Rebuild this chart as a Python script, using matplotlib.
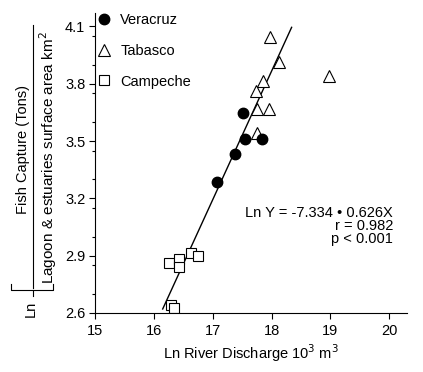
import matplotlib
matplotlib.use("Agg")
import matplotlib.pyplot as plt
from matplotlib.lines import Line2D
from matplotlib.ticker import MultipleLocator

plt.rcParams["font.family"] = ["Liberation Sans", "DejaVu Sans"]

# Ln river discharge (x) vs Ln fish capture / lagoon area (y)
veracruz_x = [17.51, 17.54, 17.83, 17.37, 17.08]
veracruz_y = [3.649, 3.513, 3.513, 3.434, 3.287]

tabasco_x = [17.98, 18.12, 17.85, 17.73, 17.76, 17.95, 17.75, 18.97]
tabasco_y = [4.042, 3.916, 3.812, 3.764, 3.670, 3.670, 3.544, 3.838]

campeche_x = [16.25, 16.42, 16.42, 16.63, 16.75, 16.29, 16.34]
campeche_y = [2.862, 2.883, 2.841, 2.915, 2.899, 2.642, 2.626]

# regression line as drawn in the figure
fit_x = [16.15, 18.34]
fit_y = [2.621, 4.095]

x_ticks = [15, 16, 17, 18, 19, 20]
y_ticks = [2.6, 2.9, 3.2, 3.5, 3.8, 4.1]

W, H = 423, 372
fig = plt.figure(figsize=(W / 100, H / 100), dpi=100)
ax = fig.add_axes([95 / W, 1 - 313 / H, (407 - 95) / W, (313 - 13) / H])

ax.plot(fit_x, fit_y, color="black", lw=1.0, zorder=1)
ax.plot(veracruz_x, veracruz_y, "o", ms=7.5, mfc="black", mec="black",
        ls="none", label="Veracruz", zorder=3)
ax.plot(tabasco_x, tabasco_y, "^", ms=8.5, mfc="white", mec="black", mew=0.8,
        ls="none", label="Tabasco", zorder=2)
ax.plot(campeche_x, campeche_y, "s", ms=6.5, mfc="white", mec="black", mew=0.8,
        ls="none", label="Campeche", zorder=2)

ax.set_xlim(15, 20.3)
ax.set_ylim(2.6, 4.17)
ax.set_xticks(x_ticks)
ax.set_yticks(y_ticks)
ax.set_xticklabels([str(t) for t in x_ticks])
ax.set_yticklabels([f"{t:.1f}" for t in y_ticks])
ax.yaxis.set_minor_locator(MultipleLocator(0.15))
ax.tick_params(axis="both", which="major", direction="out", length=4,
               width=0.8, labelsize=10.5)
ax.tick_params(axis="x", pad=4)
ax.tick_params(axis="y", pad=3)
ax.tick_params(axis="y", which="minor", direction="out", length=2.5, width=0.8)
for side in ("top", "right"):
    ax.spines[side].set_visible(False)
for side in ("left", "bottom"):
    ax.spines[side].set_linewidth(0.8)

ax.set_xlabel("Ln River Discharge 10$^3$ m$^3$", fontsize=10.5, labelpad=3)

ax.legend(loc="upper left", bbox_to_anchor=(0.006, 1.0), frameon=False,
          fontsize=10.5, handletextpad=0.6, labelspacing=1.15,
          handlelength=1.0, borderaxespad=0, borderpad=0)

ax.text(0.955, 0.29, "Ln Y = -7.334 \u2022 0.626X\nr = 0.982\np < 0.001",
        transform=ax.transAxes, ha="right", va="center", multialignment="right",
        fontsize=10.5, linespacing=0.95)

# composite y-axis label: Ln [ fish capture / lagoon area ]
fig.text(23 / W, 1 - 150 / H, "Fish Capture (Tons)", rotation=90,
         ha="center", va="center", fontsize=10.5)
fig.text(48 / W, 1 - 158 / H, "Lagoon & estuaries surface area km$^2$",
         rotation=90, ha="center", va="center", fontsize=11)
fig.add_artist(Line2D([33 / W, 33 / W], [1 - 25 / H, 1 - 288 / H],
                      transform=fig.transFigure, color="black", lw=0.8))
fig.add_artist(Line2D([11 / W, 11 / W, 53 / W, 53 / W],
                      [1 - 284 / H, 1 - 290 / H, 1 - 290 / H, 1 - 284 / H],
                      transform=fig.transFigure, color="black", lw=0.8))
fig.add_artist(Line2D([33 / W, 33 / W], [1 - 290 / H, 1 - 296 / H],
                      transform=fig.transFigure, color="black", lw=0.8))
fig.text(31 / W, 1 - 309 / H, "Ln", rotation=90, ha="center", va="center",
         fontsize=10.5)

fig.savefig("out.png", dpi=100)
